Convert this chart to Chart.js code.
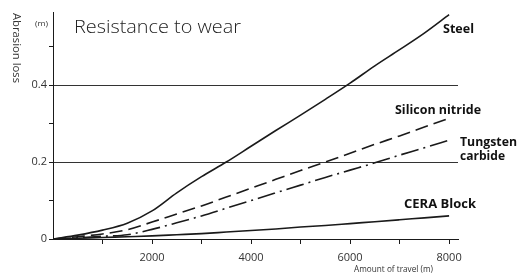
<!DOCTYPE html>
<html>
<head>
<meta charset="utf-8">
<script src="https://cdn.jsdelivr.net/npm/chart.js@4/dist/chart.umd.min.js"></script>
<style>
  body { margin: 0; background: #fff; }
  #wrap { width: 517px; height: 276px; }
</style>
</head>
<body>
<div id="wrap"><canvas id="chart" width="517" height="276"></canvas></div>
<script>
// values, abrasion loss (m) vs amount of travel (m)
const travel = [0, 500, 1000, 1500, 2000, 2500, 3000, 3500, 4000, 4500, 5000, 5500, 6000, 6500, 7000, 7500, 8000];
const steel = [0, 0.01, 0.023, 0.041, 0.073, 0.12, 0.162, 0.2, 0.241, 0.282, 0.322, 0.363, 0.405, 0.45, 0.492, 0.535, 0.583];
const siliconNitride = [0, 0.006, 0.013, 0.024, 0.044, 0.065, 0.086, 0.109, 0.132, 0.155, 0.178, 0.2, 0.223, 0.246, 0.268, 0.291, 0.314];
const tungstenCarbide = [0, 0.003, 0.007, 0.011, 0.025, 0.042, 0.06, 0.08, 0.1, 0.12, 0.14, 0.16, 0.179, 0.198, 0.218, 0.237, 0.257];
const ceraBlock = [0, 0.002, 0.004, 0.006, 0.008, 0.011, 0.014, 0.018, 0.022, 0.026, 0.031, 0.035, 0.04, 0.045, 0.05, 0.055, 0.06];

const xTicks = [1000, 2000, 3000, 4000, 5000, 6000, 7000, 8000];
const xLabelled = [2000, 4000, 6000, 8000];
const yTicks = [0, 0.1, 0.2, 0.3, 0.4, 0.5];
const yLabelled = [0, 0.2, 0.4];
const yGrid = [0.2, 0.4];

const ink = '#1a1a1a';

function pts(vals) {
    return travel.map(function(x, i) { return {x: x, y: vals[i]}; });
}

function series(vals, dash) {
    return {
        data: pts(vals),
        borderColor: ink,
        borderWidth: 1.6,
        borderDash: dash,
        pointRadius: 0,
        fill: false,
        cubicInterpolationMode: 'monotone'
    };
}

// draw text squeezed/stretched to a given width (condensed look of the original)
function fitText(ctx, str, x, y, w) {
    let m = ctx.measureText(str).width;
    ctx.save();
    ctx.translate(x, y);
    ctx.scale(w / m, 1);
    ctx.fillText(str, 0, 0);
    ctx.restore();
}

const labelsPlugin = {
    id: 'labels',
    afterDraw: function(chart) {
        let ctx = chart.ctx;
        ctx.save();
        ctx.fillStyle = '#222';
        ctx.textAlign = 'left';

        // title
        ctx.textBaseline = 'alphabetic';
        ctx.font = '300 19px "Open Sans", "Noto Sans", sans-serif';
        fitText(ctx, 'Resistance to wear', 74, 33, 167);

        // unit and axis titles
        ctx.textBaseline = 'middle';
        ctx.fillStyle = '#333';
        ctx.font = '8px "Open Sans", "Noto Sans", sans-serif';
        fitText(ctx, '(m)', 35, 24, 13);
        ctx.font = '9px "Open Sans", "Noto Sans", sans-serif';
        fitText(ctx, 'Amount of travel (m)', 354, 269, 79);

        ctx.save();
        ctx.translate(16, 13);
        ctx.rotate(Math.PI / 2);
        ctx.font = '10px "Open Sans", "Noto Sans", sans-serif';
        fitText(ctx, 'Abrasion loss', 0, 0, 70);
        ctx.restore();

        // series labels
        ctx.fillStyle = '#111';
        ctx.font = 'bold 13px "Open Sans", "Noto Sans", sans-serif';
        fitText(ctx, 'Steel', 443, 29, 31);
        fitText(ctx, 'Silicon nitride', 395, 110, 86);
        fitText(ctx, 'Tungsten', 460, 142, 57);
        fitText(ctx, 'carbide', 460, 156, 45);
        fitText(ctx, 'CERA Block', 404, 204, 72);
        ctx.restore();
    }
};

new Chart(document.getElementById('chart'), {
    type: 'line',
    data: {
        datasets: [
            series(steel, []),
            series(siliconNitride, [13, 6]),
            series(tungstenCarbide, [18, 5, 2, 5]),
            series(ceraBlock, [])
        ]
    },
    options: {
        responsive: false,
        animation: false,
        layout: {padding: {left: 0, right: 59, top: 12, bottom: 0}},
        plugins: {legend: {display: false}, tooltip: {enabled: false}},
        scales: {
            x: {
                type: 'linear',
                min: 0,
                max: 8180,
                afterBuildTicks: function(s) { s.ticks = xTicks.map(function(v) { return {value: v}; }); },
                afterFit: function(s) { s.height = 37; },
                border: {display: true, color: ink, width: 1},
                grid: {color: 'transparent', tickColor: ink, tickLength: 5, drawTicks: true},
                ticks: {
                    color: '#333',
                    padding: 7,
                    maxRotation: 0,
                    autoSkip: false,
                    font: {size: 11, family: '"Open Sans", "Noto Sans", sans-serif'},
                    callback: function(v) { return xLabelled.includes(v) ? String(v) : ''; }
                }
            },
            y: {
                min: 0,
                max: 0.59,
                afterBuildTicks: function(s) { s.ticks = yTicks.map(function(v) { return {value: v}; }); },
                afterFit: function(s) { s.width = 53; },
                border: {display: true, color: ink, width: 1},
                grid: {
                    color: function(c) { return (c.tick && yGrid.includes(c.tick.value)) ? '#333' : 'transparent'; },
                    tickColor: ink,
                    tickLength: 4,
                    drawTicks: true
                },
                ticks: {
                    color: '#333',
                    padding: 2,
                    autoSkip: false,
                    font: {size: 11, family: '"Open Sans", "Noto Sans", sans-serif'},
                    callback: function(v) {
                        if (!yLabelled.includes(v)) return '';
                        return v === 0 ? '0' : v.toFixed(1);
                    }
                }
            }
        }
    },
    plugins: [labelsPlugin]
});
</script>
</body>
</html>
